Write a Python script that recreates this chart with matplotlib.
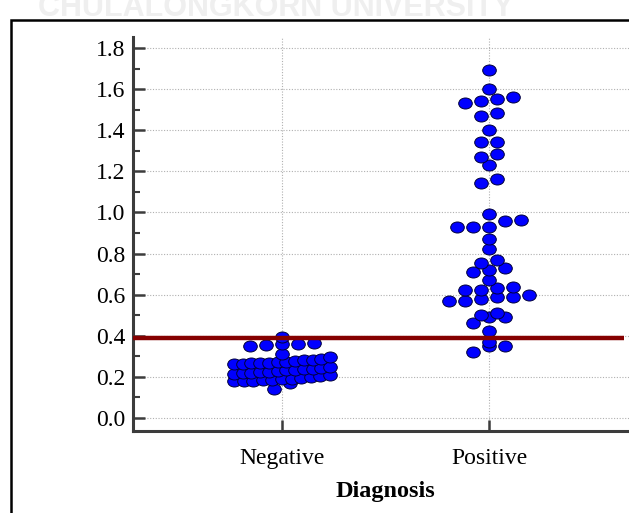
import numpy as np
import matplotlib
matplotlib.use('Agg')
import matplotlib.pyplot as plt
from matplotlib.path import Path
from matplotlib.patches import Rectangle
from matplotlib.ticker import MultipleLocator
import matplotlib.transforms as mtransforms

# datos
categorias = ['Negative', 'Positive']
negativos = [0.141, 0.170,
             0.178, 0.180, 0.182, 0.184, 0.186, 0.189, 0.192, 0.195, 0.199,
             0.203, 0.208,
             0.216, 0.218, 0.220, 0.223, 0.226, 0.229, 0.232, 0.235, 0.238,
             0.241, 0.245, 0.249,
             0.262, 0.264, 0.266, 0.268, 0.270, 0.272, 0.274, 0.277, 0.280,
             0.283, 0.287, 0.297,
             0.311,
             0.352, 0.355, 0.358, 0.362, 0.366,
             0.394]
positivos = [0.321, 0.350, 0.352, 0.370, 0.423,
             0.462, 0.490, 0.492, 0.501, 0.511,
             0.569, 0.570, 0.579, 0.588, 0.590, 0.600,
             0.623, 0.624, 0.632, 0.637, 0.671,
             0.710, 0.720, 0.730, 0.754, 0.768,
             0.822, 0.871,
             0.929, 0.930, 0.931, 0.960, 0.962, 0.992,
             1.143, 1.162, 1.231, 1.269, 1.284,
             1.342, 1.344, 1.401, 1.469, 1.483,
             1.532, 1.542, 1.552, 1.561, 1.600, 1.693]
corte = 0.387
yticks = [0.0, 0.2, 0.4, 0.6, 0.8, 1.0, 1.2, 1.4, 1.6, 1.8]


def dot_plot(valores, centro, ancho=0.036, paso=0.0773, max_ancho=0.464):
    # agrupa valores cercanos y los reparte a lo ancho, de menor a mayor;
    # si el grupo no cabe, se aprietan los puntos
    vals = sorted(valores)
    xs, ys = [], []
    i = 0
    while i < len(vals):
        j = i
        while j < len(vals) and vals[j] < vals[i] + ancho:
            j += 1
        n = j - i
        p = paso if n < 2 else min(paso, max_ancho / (n - 1))
        for k in range(n):
            xs.append(centro + (k - (n - 1) / 2) * p)
            ys.append(vals[i + k])
        i = j
    return xs, ys


# marcador eliptico (la imagen original esta estirada)
circ = Path.unit_circle()
elipse = Path(circ.vertices * np.array([1.0, 0.81]), circ.codes)

fig = plt.figure(figsize=(6.29, 5.13), dpi=100)
ax = fig.add_axes([133/629, 82/513, 496/629, 394/513])

for i, vals in enumerate([negativos, positivos]):
    xs, ys = dot_plot(vals, i)
    ax.plot(xs, ys, linestyle='none', marker=elipse, markersize=9.8,
            markerfacecolor='#0000ff', markeredgecolor='#00003a',
            markeredgewidth=0.7, zorder=3)

ax.axhline(corte, xmin=0, xmax=0.99, color='#850000', lw=3.2, zorder=4,
           solid_capstyle='butt')

ax.set_xlim(-0.72, 1.676)
ax.set_ylim(-0.063, 1.8535)
ax.set_xticks(range(len(categorias)))
ax.set_xticklabels(categorias)
ax.set_yticks(yticks)
ax.set_yticklabels([f'{v:.1f}' for v in yticks])
ax.yaxis.set_minor_locator(MultipleLocator(0.1))

ax.grid(True, which='major', linestyle=(0, (1, 1.5)), color='#b0b0b0', lw=0.8)
ax.set_axisbelow(True)

for lado in ['top', 'right']:
    ax.spines[lado].set_visible(False)
for lado in ['left', 'bottom']:
    ax.spines[lado].set_color('#3c3c3c')
    ax.spines[lado].set_linewidth(2.2)

ax.tick_params(axis='y', which='major', direction='in', length=8.5, width=1.8,
               color='#3c3c3c', pad=5.5)
ax.tick_params(axis='y', which='minor', direction='in', length=5, width=1.5,
               color='#3c3c3c')
ax.tick_params(axis='x', which='major', direction='in', length=8, width=1.8,
               color='#3c3c3c', pad=12)
for lab in ax.get_xticklabels() + ax.get_yticklabels():
    lab.set_fontfamily('Liberation Serif')
    lab.set_fontsize(17)

ax.set_xlabel('Diagnosis', fontfamily='Liberation Serif', fontsize=17.5,
              fontweight='bold')
trans = mtransforms.blended_transform_factory(ax.transData, ax.transAxes)
ax.xaxis.set_label_coords(0.5, -0.153, transform=trans)
ax.xaxis.label.set_verticalalignment('center')

# marco exterior y marca de agua
fig.patches.append(Rectangle((11/629, -0.1), 1.2, (493/513) + 0.1, fill=False,
                             lw=1.8, edgecolor='black', transform=fig.transFigure))
fig.text(276/629, 1 - 16/513, 'CHULALONGKORN UNIVERSITY', ha='center',
         va='baseline', fontsize=22, fontweight='bold',
         fontfamily=['Liberation Sans Narrow', 'Liberation Sans'],
         color='#efefef')

plt.savefig('out.png', dpi=100)
